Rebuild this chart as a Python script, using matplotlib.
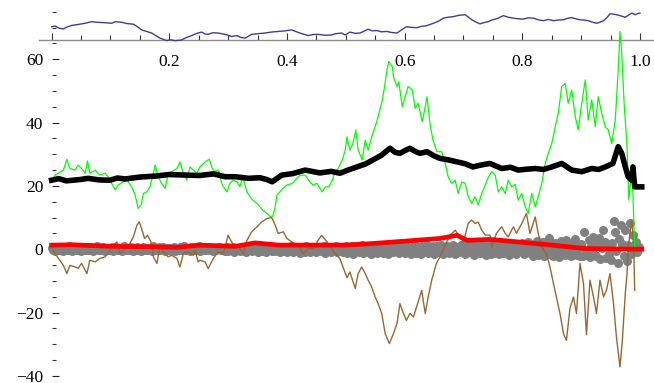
import numpy as np
import matplotlib
matplotlib.use("Agg")
from matplotlib import pyplot as plt

# ---- data ----
blue_x = [0.000, 0.006, 0.013, 0.020, 0.026, 0.034, 0.045, 0.057, 0.068, 0.077, 0.088, 0.102, 0.109, 0.119,
          0.128, 0.139, 0.145, 0.153, 0.160, 0.170, 0.177, 0.184, 0.196, 0.201, 0.210, 0.221, 0.228, 0.238,
          0.247, 0.255, 0.261, 0.266, 0.274, 0.283, 0.295, 0.306, 0.315, 0.322, 0.329, 0.340, 0.351, 0.363,
          0.373, 0.385, 0.397, 0.408, 0.419, 0.427, 0.436, 0.444, 0.453, 0.465, 0.476, 0.483, 0.493, 0.499,
          0.507, 0.516, 0.524, 0.531, 0.538, 0.545, 0.553, 0.560, 0.570, 0.577, 0.587, 0.594, 0.603, 0.611,
          0.621, 0.628, 0.637, 0.649, 0.657, 0.666, 0.674, 0.683, 0.692, 0.703, 0.714, 0.721, 0.728, 0.735,
          0.742, 0.748, 0.756, 0.768, 0.776, 0.785, 0.793, 0.802, 0.810, 0.819, 0.827, 0.836, 0.844, 0.853,
          0.861, 0.870, 0.876, 0.884, 0.891, 0.898, 0.905, 0.912, 0.918, 0.926, 0.932, 0.938, 0.944, 0.949,
          0.954, 0.960, 0.966, 0.975, 0.980, 0.986, 0.992, 0.997, 1.000]
blue_y = [70.3, 70.5, 69.8, 69.6, 70.2, 70.7, 71.0, 71.4, 71.9, 71.7, 71.6, 71.4, 71.9, 71.7,
          71.3, 71.1, 70.4, 69.3, 68.9, 68.3, 67.5, 66.7, 65.9, 66.2, 65.9, 66.1, 66.8, 67.5,
          68.2, 68.6, 68.0, 67.9, 68.4, 68.3, 67.9, 67.2, 67.5, 66.9, 66.7, 67.9, 68.1, 68.3,
          68.6, 68.8, 69.0, 69.3, 68.5, 68.0, 67.5, 67.8, 67.9, 67.6, 67.7, 68.1, 68.3, 67.7,
          68.6, 68.2, 68.3, 68.9, 69.5, 69.0, 69.1, 68.7, 68.8, 68.5, 68.3, 69.2, 70.3, 70.1,
          70.0, 70.4, 70.6, 71.4, 72.0, 73.0, 73.3, 73.5, 73.9, 74.1, 72.5, 71.8, 71.2, 71.6,
          71.9, 72.4, 72.8, 73.8, 73.3, 73.0, 72.8, 72.7, 73.1, 73.0, 72.5, 72.2, 72.6, 72.2,
          72.4, 72.5, 72.9, 73.2, 72.8, 72.5, 72.4, 72.2, 71.8, 71.4, 71.7, 72.2, 73.2, 74.4,
          74.3, 74.1, 73.8, 73.3, 73.9, 74.6, 74.1, 74.5, 74.6]

green_x = [0.000, 0.006, 0.020, 0.026, 0.031, 0.040, 0.045, 0.051, 0.057, 0.061, 0.065, 0.074, 0.082, 0.091,
           0.096, 0.102, 0.108, 0.113, 0.122, 0.128, 0.136, 0.142, 0.147, 0.152, 0.156, 0.162, 0.167, 0.173,
           0.176, 0.181, 0.187, 0.193, 0.198, 0.204, 0.213, 0.218, 0.224, 0.230, 0.235, 0.241, 0.247, 0.252,
           0.261, 0.268, 0.273, 0.278, 0.283, 0.290, 0.298, 0.303, 0.308, 0.315, 0.320, 0.325, 0.332, 0.337,
           0.342, 0.349, 0.354, 0.359, 0.366, 0.371, 0.376, 0.380, 0.383, 0.388, 0.393, 0.400, 0.409, 0.414,
           0.422, 0.431, 0.439, 0.444, 0.451, 0.460, 0.465, 0.471, 0.477, 0.482, 0.487, 0.494, 0.499, 0.502,
           0.507, 0.512, 0.517, 0.521, 0.528, 0.533, 0.538, 0.545, 0.550, 0.555, 0.562, 0.565, 0.570, 0.573,
           0.579, 0.581, 0.587, 0.590, 0.596, 0.601, 0.606, 0.613, 0.618, 0.623, 0.630, 0.635, 0.638, 0.643,
           0.648, 0.655, 0.663, 0.669, 0.674, 0.680, 0.686, 0.691, 0.697, 0.703, 0.708, 0.714, 0.720, 0.725,
           0.731, 0.737, 0.742, 0.748, 0.754, 0.759, 0.765, 0.771, 0.776, 0.782, 0.788, 0.793, 0.799, 0.805,
           0.810, 0.816, 0.822, 0.827, 0.833, 0.839, 0.844, 0.850, 0.856, 0.861, 0.867, 0.873, 0.878, 0.884,
           0.890, 0.895, 0.901, 0.907, 0.912, 0.918, 0.924, 0.929, 0.935, 0.941, 0.946, 0.952, 0.958, 0.963,
           0.966, 0.969, 0.973, 0.978, 0.981, 0.986, 0.988, 0.991]
green_y = [21.8, 23.4, 25.0, 28.4, 25.5, 25.0, 26.6, 25.5, 24.0, 27.9, 24.0, 25.0, 23.4, 24.0,
           22.9, 20.8, 18.7, 20.3, 21.3, 21.8, 19.7, 17.1, 12.9, 13.9, 17.6, 18.1, 19.7, 24.0,
           26.6, 22.9, 20.8, 19.2, 24.0, 24.5, 25.5, 27.6, 24.0, 21.8, 26.0, 25.0, 24.0, 26.0,
           27.6, 28.4, 25.5, 24.5, 25.0, 20.3, 18.1, 20.8, 21.8, 21.3, 19.7, 22.9, 18.1, 16.6,
           15.5, 14.5, 13.4, 12.3, 11.3, 10.4, 10.4, 13.4, 17.1, 18.1, 19.2, 20.3, 20.8, 21.8,
           23.4, 23.4, 21.3, 20.3, 20.8, 18.1, 19.7, 19.7, 21.8, 24.5, 25.5, 28.2, 31.3, 35.5,
           31.3, 33.4, 37.7, 31.3, 28.2, 34.5, 31.3, 36.1, 38.7, 41.9, 47.2, 50.3, 56.6, 59.3,
           57.7, 54.5, 51.4, 52.9, 45.0, 48.2, 51.4, 50.3, 44.5, 46.1, 40.3, 45.0, 48.2, 39.8,
           34.5, 30.8, 30.8, 27.1, 22.9, 20.8, 21.8, 17.6, 21.3, 20.8, 16.6, 14.5, 16.6, 13.9,
           17.6, 20.3, 22.6, 24.5, 23.4, 18.1, 19.7, 17.6, 21.8, 19.7, 20.5, 15.5, 17.6, 13.4,
           11.3, 17.6, 13.4, 16.6, 20.8, 27.1, 30.3, 33.4, 38.7, 42.9, 51.4, 52.4, 46.1, 50.3,
           41.9, 37.7, 46.1, 53.5, 40.8, 47.2, 38.7, 48.2, 42.9, 38.7, 37.7, 33.4, 40.8, 56.6,
           68.8, 61.9, 46.1, 32.4, 15.5, 25.0, 17.6, -0.3]

black_x = [0.000, 0.012, 0.025, 0.048, 0.062, 0.080, 0.099, 0.112, 0.125, 0.150, 0.176, 0.200, 0.230,
           0.252, 0.275, 0.295, 0.312, 0.335, 0.354, 0.366, 0.375, 0.391, 0.410, 0.431, 0.456, 0.475,
           0.490, 0.505, 0.519, 0.533, 0.546, 0.560, 0.575, 0.584, 0.592, 0.601, 0.609, 0.618, 0.626,
           0.638, 0.650, 0.660, 0.675, 0.689, 0.703, 0.716, 0.730, 0.745, 0.765, 0.780, 0.793, 0.808,
           0.822, 0.836, 0.850, 0.867, 0.884, 0.901, 0.918, 0.930, 0.941, 0.954, 0.963, 0.969, 0.975,
           0.980, 0.986, 0.988, 0.991, 1.003]
black_y = [21.8, 22.3, 21.6, 22.0, 22.4, 21.9, 21.8, 22.5, 22.2, 22.8, 23.1, 23.6, 23.4,
           23.3, 23.8, 22.9, 22.9, 22.4, 22.6, 22.0, 21.3, 23.4, 23.9, 25.0, 24.1, 24.6,
           24.0, 25.1, 26.0, 26.9, 28.2, 29.6, 31.9, 30.6, 30.3, 31.2, 31.9, 30.9, 30.3,
           30.8, 29.5, 28.7, 28.2, 27.6, 27.0, 26.0, 26.6, 27.1, 25.5, 25.9, 25.0, 25.3,
           25.5, 25.2, 26.0, 27.1, 25.0, 24.5, 25.5, 25.2, 26.0, 27.1, 32.4, 30.3, 26.0,
           22.9, 21.8, 26.0, 19.7, 19.7]

red_x = [0.000, 0.035, 0.103, 0.159, 0.215, 0.252, 0.312, 0.346, 0.385, 0.443, 0.499, 0.546, 0.604,
         0.660, 0.689, 0.706, 0.745, 0.793, 0.850, 0.907, 1.003]
red_y = [1.3, 1.4, 0.9, 0.8, 0.6, 1.3, 0.9, 2.0, 1.3, 1.3, 1.3, 1.8, 2.6,
         3.4, 4.4, 2.8, 3.1, 2.3, 1.3, 0.2, 0.0]

brown_x = [0.000, 0.006, 0.014, 0.020, 0.026, 0.031, 0.040, 0.045, 0.051, 0.060, 0.065, 0.074, 0.082,
           0.091, 0.099, 0.105, 0.111, 0.116, 0.125, 0.133, 0.139, 0.145, 0.149, 0.153, 0.158, 0.163,
           0.169, 0.173, 0.179, 0.184, 0.193, 0.198, 0.204, 0.213, 0.218, 0.224, 0.232, 0.241, 0.244,
           0.249, 0.252, 0.261, 0.266, 0.275, 0.283, 0.292, 0.300, 0.309, 0.317, 0.326, 0.332, 0.340,
           0.349, 0.357, 0.366, 0.374, 0.380, 0.385, 0.394, 0.400, 0.408, 0.419, 0.428, 0.436, 0.445,
           0.453, 0.459, 0.468, 0.476, 0.482, 0.490, 0.495, 0.502, 0.507, 0.516, 0.521, 0.527, 0.533,
           0.538, 0.544, 0.550, 0.555, 0.561, 0.567, 0.574, 0.581, 0.587, 0.592, 0.598, 0.603, 0.609,
           0.615, 0.622, 0.629, 0.635, 0.640, 0.646, 0.654, 0.660, 0.669, 0.677, 0.686, 0.694, 0.700,
           0.708, 0.714, 0.720, 0.725, 0.731, 0.737, 0.745, 0.748, 0.756, 0.765, 0.771, 0.776, 0.785,
           0.790, 0.799, 0.807, 0.813, 0.822, 0.827, 0.833, 0.841, 0.847, 0.853, 0.858, 0.864, 0.870,
           0.875, 0.881, 0.887, 0.892, 0.898, 0.904, 0.909, 0.915, 0.921, 0.926, 0.932, 0.938, 0.943,
           0.949, 0.955, 0.960, 0.966, 0.970, 0.975, 0.978, 0.980, 0.983, 0.986, 0.989, 0.991]
brown_y = [0.7, -1.4, -3.5, -5.1, -7.7, -5.1, -5.6, -6.0, -4.5, -7.7, -3.5, -4.0, -2.9,
           -2.4, -0.3, 1.3, 2.3, -1.4, 0.2, 1.8, 3.9, 7.6, 8.6, 6.5, 3.4, 4.4,
           2.3, -2.4, -4.5, 0.7, -1.4, -2.4, -1.9, -2.9, -5.6, -1.4, -0.8, -1.9, -0.3,
           -4.0, -3.5, -4.0, -6.1, -2.9, -0.8, -1.4, 4.4, 1.3, 1.0, -1.4, 2.8, 5.5,
           7.1, 8.6, 9.7, 10.0, 7.6, 5.0, 5.5, 3.4, 2.3, 1.3, -1.4, 0.2, 0.2,
           2.8, 4.4, 2.3, 0.2, -1.4, -3.0, -5.5, -9.0, -7.2, -12.4, -7.7, -5.6, -7.7,
           -9.8, -11.9, -15.1, -17.2, -20.3, -26.7, -29.8, -26.7, -23.5, -17.2, -20.3, -22.5, -20.3,
           -21.4, -17.2, -13.0, -20.3, -15.1, -9.8, -4.5, -2.4, 1.3, 4.4, 6.0, 3.9, 2.3,
           8.1, 9.2, 8.1, 8.6, 6.0, 4.5, 4.4, 0.7, 5.0, 7.1, 5.0, 3.9, 7.1,
           5.0, 8.1, 11.3, 5.0, 10.2, 5.0, 0.7, -1.4, -5.6, -10.9, -15.1, -20.3, -26.7,
           -28.8, -18.6, -15.1, -20.3, -4.5, -10.9, -27.0, -9.8, -15.1, -20.3, -9.8, -15.1, -12.9,
           -7.7, -17.2, -27.8, -37.2, -28.8, -14.0, -7.7, 0.7, 5.0, 9.2, 2.8, -13.0]

# gray points, one every 0.0025 in x
gray_y = [0.3, -0.2, -0.5, 0.6, 0.1, -0.4, 0.8, -0.1, -0.5, 0.4, 0.0, -0.3, 0.9, 0.2, -0.5, -0.1, 0.5, -0.4, 0.7, -0.2,
          -0.5, 0.3, 0.1, -0.4, 0.8, -0.3, 0.0, 0.6, -0.5, -0.2, 0.4, 0.9, -0.4, 0.1, -0.1, 0.7, -0.5, 0.2, -0.3, 0.5,
          -0.2, 0.6, -0.5, 0.1, 0.8, -0.3, -0.1, 0.4, -0.5, 0.9, 0.0, -0.4, 0.3, -0.2, 0.7, -0.5, 0.2, -0.1, 0.6, -0.4,
          0.1, -0.5, 0.8, -0.2, 0.3, -0.4, 0.5, 0.0, -0.5, 0.9, -0.1, 0.2, -0.4, 0.6, -0.3, 0.1, 0.7, -0.5, 0.4, -0.2,
          0.5, -0.4, 0.0, 0.8, -0.5, 0.2, -0.2, 0.6, -0.4, 0.3, 1.0, -0.3, -0.1, 0.5, -0.5, 0.7, 0.1, -0.4, 0.4, -0.2,
          0.9, -0.5, 0.2, -0.1, 0.6, -0.4, 0.0, 0.8, -0.3, 0.3, -0.5, 0.5, -0.2, 0.1, 0.7, -0.4, 0.4, -0.1, -0.5, 0.6,
          -0.6, 0.3, -0.2, 0.7, -0.8, 0.1, -0.4, 0.5, -0.7, 0.0, 0.8, -0.5, -0.9, 0.4, -0.2, 0.6, -0.7, 0.2, -0.4, 0.7,
          -0.8, 0.0, 0.5, -0.6, -0.3, 0.8, -0.9, 0.3, -0.1, 0.6, -0.7, 0.1, -0.5, 0.4, 0.7, -0.8, -0.2, 0.5, -0.6, 0.2,
          -0.9, 0.6, -0.3, 0.9, -1.0, 0.2, -0.6, 0.7, -0.2, -1.1, 0.4, 0.0, -0.8, 1.0, -0.4, 0.5, -0.9, 0.3, -0.6, 0.8,
          -1.0, 0.1, 0.6, -0.7, -0.3, 0.9, -1.1, 0.4, -0.2, 0.7, -0.8, 0.2, -0.5, 1.0, -0.9, 0.3, -0.4, 0.6, -1.0, 0.0,
          0.9, -1.2, 0.3, -0.6, 1.1, -1.4, 0.5, -0.2, 0.8, -1.0, 0.1, 1.2, -1.3, -0.4, 0.6, -0.9, 1.0, -1.4, 0.2, -0.7,
          0.9, -1.1, 0.4, -0.3, 1.2, -1.3, 0.0, 0.7, -0.8, -1.4, 1.1, 0.3, -1.0, 0.5, -0.5, 0.9, -1.2, 0.2, -0.6, 1.0,
          -1.2, 1.0, -0.5, 0.3, -1.5, 0.8, -0.9, 1.3, -1.1, 0.5, -0.2, -1.6, 1.1, 0.0, -0.7, 1.4, -1.3, 0.6, -0.4, 1.0,
          -1.5, 0.2, 0.9, -1.0, -0.3, 1.3, -1.6, 0.5, -0.8, 1.1, -1.2, 0.3, -0.5, 1.4, -1.4, 0.7, -0.1, -1.0, 1.2, -0.6,
          1.2, -1.4, 0.4, -0.8, 1.6, -1.0, 0.6, -1.7, 1.3, -0.3, 0.1, -1.2, 1.5, -0.7, 0.9, -1.8, 1.1, -0.3, 1.8, -1.5,
          0.6, -1.1, 1.4, -0.5, -1.6, 1.0, 0.2, -1.3, 1.7, -0.8, 0.5, -1.8, 1.2, -0.2, -1.0, 1.6, -1.4, 0.8, -0.6, 1.1,
          1.9, -1.6, 0.8, -0.9, 2.2, -1.3, 0.4, -2.0, 1.5, -0.5, 2.6, -1.8, 0.9, -1.1, 2.3, -2.1, 1.2, -0.3, 3.5, -1.4,
          0.6, -2.2, 2.0, -0.8, 1.4, -2.4, 2.6, -0.4, 0.3, -1.9, 2.9, -1.2, 1.0, -2.3, 1.8, -0.6, 3.2, -1.7, 0.5, -2.0,
          1.6, -2.1, 5.5, -0.9, -1.9, 2.8, -2.6, 0.9, 4.0, -1.5, -2.2, 1.7, 3.4, -3.2, 0.4, 6.2, 2.4, -2.8, 1.1, -1.6,
          -3.5, 2.0, 8.8, 5.4, -0.6, -4.2, 3.1, 7.6, 1.5, -2.0, 6.0, -3.8, 1.2, 8.2, -1.4, 4.6, -0.5, 2.2, -1.0, 0.8]
gray_x = np.arange(len(gray_y)) * 0.0025

x_major = [0.0, 0.2, 0.4, 0.6, 0.8, 1.0]
x_labels = ['', '0.2', '0.4', '0.6', '0.8', '1.0']
y_major = [-40, -20, 0, 20, 40, 60]
y_labels = ['\u221240', '\u221220', '0', '20', '40', '60']

plt.rcParams['font.family'] = ['Liberation Serif', 'DejaVu Serif']

fig = plt.figure(figsize=(6.54, 3.83), dpi=100)
ax = fig.add_axes([0, 0, 1, 1])
ax.set_xlim(-0.0877, 1.0238)
ax.set_ylim(-42.27, 78.74)

ax.plot(gray_x, gray_y, 'o', ms=6.5, color='#808080', mec='none', zorder=3)
ax.plot(brown_x, brown_y, color='#996633', lw=1.0, zorder=4)
ax.plot(green_x, green_y, color='#00ff00', lw=0.9, zorder=4)
ax.plot(blue_x, blue_y, color='#3d3d99', lw=1.0, zorder=4)
ax.plot(black_x, black_y, color='black', lw=4.0, zorder=5)
ax.plot(red_x, red_y, color='#ff0000', lw=3.4, zorder=6)

for s in ['top', 'right', 'left']:
    ax.spines[s].set_visible(False)
ax.spines['bottom'].set_position(('data', 66))
ax.spines['left'].set_position(('data', 0))
ax.spines['bottom'].set_color('#8c8c8c')
ax.spines['bottom'].set_linewidth(1.0)
ax.spines['bottom'].set_bounds(-0.021, 1.03)

ax.set_xticks(x_major)
ax.set_xticklabels(x_labels)
ax.set_xticks([0.05, 0.1, 0.15, 0.25, 0.3, 0.35, 0.45, 0.5, 0.55, 0.65, 0.7, 0.75, 0.85, 0.9, 0.95],
              minor=True)
ax.set_yticks(y_major)
ax.set_yticklabels(y_labels)
ax.set_yticks([-35, -30, -25, -15, -10, -5, 5, 10, 15, 25, 30, 35, 45, 50, 55, 65, 70, 75], minor=True)

ax.tick_params(axis='x', which='major', direction='in', length=5, width=0.8, pad=10,
               labelsize=12.5, color='#333333')
ax.tick_params(axis='x', which='minor', direction='in', length=3.3, width=0.8, color='#333333')
ax.tick_params(axis='y', which='major', direction='in', length=4.8, width=0.8, pad=6,
               labelsize=12.5, color='#222222')
ax.tick_params(axis='y', which='minor', direction='in', length=3.1, width=0.8, color='#333333')

fig.savefig('out.png', dpi=100)
